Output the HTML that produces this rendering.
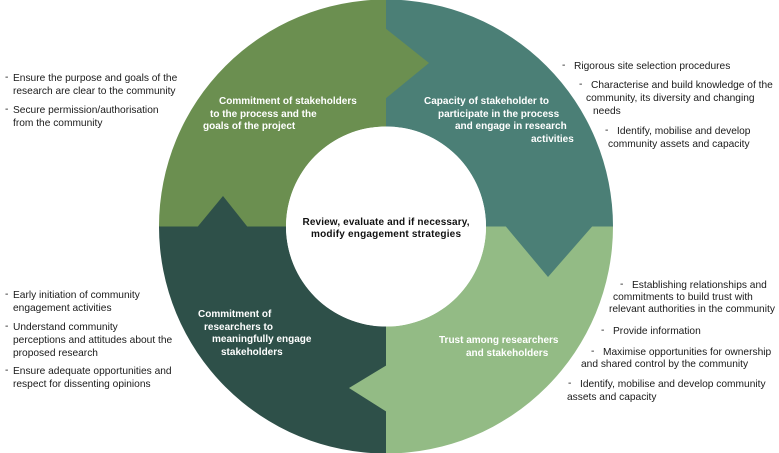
<!DOCTYPE html>
<html><head><meta charset="utf-8"><style>
html,body{margin:0;padding:0;background:#fff;}
svg{display:block;}
text{font-family:"Liberation Sans",Arial,sans-serif;}
.l{font-size:10.2px;fill:#1a1a1a;}
.w{font-size:10px;fill:#fff;font-weight:bold;}
.c{font-size:10px;fill:#111;font-weight:bold;}
</style></head><body>
<svg width="779" height="453" viewBox="0 0 779 453" xmlns="http://www.w3.org/2000/svg">
<path d="M386 -0.5 A227 227 0 0 0 159 226.5 L286 226.5 A100 100 0 0 1 386 126.5 Z" fill="#6b8f50"/>
<path d="M386 -0.5 A227 227 0 0 1 613 226.5 L486 226.5 A100 100 0 0 0 386 126.5 Z" fill="#4b7f76"/>
<path d="M613 226.5 A227 227 0 0 1 386 453.5 L386 326.5 A100 100 0 0 0 486 226.5 Z" fill="#93bb85"/>
<path d="M386 453.5 A227 227 0 0 1 159 226.5 L286 226.5 A100 100 0 0 0 386 326.5 Z" fill="#2e5049"/>
<polygon points="385,28 429,63 385,99" fill="#6b8f50"/>
<polygon points="505,225.5 548,277 593,225.5" fill="#4b7f76"/>
<polygon points="387,365 349,388 387,412" fill="#93bb85"/>
<polygon points="197,227.5 223,196 248,227.5" fill="#2e5049"/>
<circle cx="386" cy="226.5" r="100" fill="#fff"/>

<text class="c" x="386" y="225" text-anchor="middle" textLength="167">Review, evaluate and if necessary,</text>
<text class="c" x="386" y="237" text-anchor="middle" textLength="150">modify engagement strategies</text>

<text class="w" x="219" y="104">Commitment of stakeholders</text>
<text class="w" x="210" y="117">to the process and the</text>
<text class="w" x="203" y="129">goals of the project</text>

<text class="w" x="424" y="104">Capacity of stakeholder to</text>
<text class="w" x="438" y="117">participate in the process</text>
<text class="w" x="455" y="129">and engage in research</text>
<text class="w" x="531" y="142">activities</text>

<text class="w" x="198" y="317">Commitment of</text>
<text class="w" x="204" y="330">researchers to</text>
<text class="w" x="212" y="342">meaningfully engage</text>
<text class="w" x="221" y="355">stakeholders</text>

<text class="w" x="439" y="343">Trust among researchers</text>
<text class="w" x="466" y="356">and stakeholders</text>

<text class="l" x="5" y="80">-</text>
<text class="l" x="13" y="81">Ensure the purpose and goals of the</text>
<text class="l" x="13" y="94">research are clear to the community</text>
<text class="l" x="5" y="112">-</text>
<text class="l" x="13" y="113">Secure permission/authorisation</text>
<text class="l" x="13" y="126">from the community</text>

<text class="l" x="5" y="297">-</text>
<text class="l" x="13" y="298">Early initiation of community</text>
<text class="l" x="13" y="311">engagement activities</text>
<text class="l" x="5" y="329">-</text>
<text class="l" x="13" y="330">Understand community</text>
<text class="l" x="13" y="343">perceptions and attitudes about the</text>
<text class="l" x="13" y="356">proposed research</text>
<text class="l" x="5" y="373">-</text>
<text class="l" x="13" y="374">Ensure adequate opportunities and</text>
<text class="l" x="13" y="387">respect for dissenting opinions</text>

<text class="l" x="562" y="68">-</text>
<text class="l" x="574" y="69">Rigorous site selection procedures</text>
<text class="l" x="579" y="87">-</text>
<text class="l" x="591" y="88">Characterise and build knowledge of the</text>
<text class="l" x="586" y="101">community, its diversity and changing</text>
<text class="l" x="593" y="114">needs</text>
<text class="l" x="605" y="133">-</text>
<text class="l" x="617" y="134">Identify, mobilise and develop</text>
<text class="l" x="608" y="147">community assets and capacity</text>

<text class="l" x="620" y="287">-</text>
<text class="l" x="632" y="288">Establishing relationships and</text>
<text class="l" x="613" y="300">commitments to build trust with</text>
<text class="l" x="609" y="312">relevant authorities in the community</text>
<text class="l" x="601" y="333">-</text>
<text class="l" x="613" y="334">Provide information</text>
<text class="l" x="591" y="354">-</text>
<text class="l" x="603" y="355">Maximise opportunities for ownership</text>
<text class="l" x="581" y="367">and shared control by the community</text>
<text class="l" x="568" y="386">-</text>
<text class="l" x="580" y="387">Identify, mobilise and develop community</text>
<text class="l" x="567" y="400">assets and capacity</text>
</svg>
</body></html>
